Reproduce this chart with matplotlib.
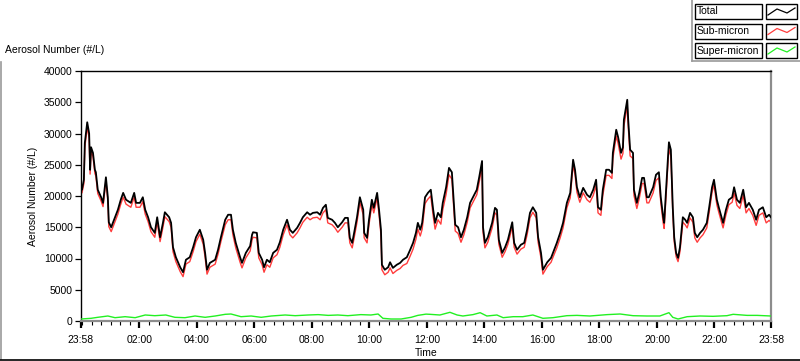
import numpy as np
import matplotlib
matplotlib.use("Agg")
import matplotlib.pyplot as plt
from matplotlib.lines import Line2D
from matplotlib.patches import Rectangle

plt.rcParams["font.family"] = ["Liberation Sans", "DejaVu Sans"]

# ---- data (minutes after 23:58 start, aerosol number #/L) ----
minutes = [0, 2, 6, 8, 13, 17, 19, 21, 25, 29, 31, 35, 42, 46, 52, 56, 58, 63, 71, 77,
           83, 88, 94, 104, 111, 115, 123, 129, 134, 140, 146, 154, 159, 165, 171, 175,
           184, 188, 192, 198, 207, 213, 219, 227, 234, 240, 248, 255, 259, 263, 269,
           280, 286, 292, 301, 307, 313, 317, 323, 332, 336, 344, 353, 357, 359, 367,
           371, 378, 382, 388, 394, 401, 409, 415, 422, 430, 436, 442, 451, 457, 463,
           472, 478, 484, 493, 499, 505, 511, 515, 524, 530, 536, 545, 551, 557, 561,
           566, 570, 576, 582, 589, 591, 597, 601, 607, 611, 618, 622, 626, 628, 634,
           641, 645, 651, 659, 666, 672, 680, 687, 693, 699, 703, 708, 712, 718, 724,
           730, 735, 739, 745, 751, 755, 762, 768, 774, 776, 781, 787, 793, 799, 806,
           812, 818, 826, 831, 837, 839, 843, 849, 858, 864, 868, 872, 879, 885, 891,
           900, 904, 910, 918, 925, 931, 937, 943, 950, 954, 960, 964, 973, 981, 985,
           993, 1000, 1006, 1014, 1021, 1027, 1031, 1035, 1041, 1048, 1056, 1062, 1069,
           1075, 1079, 1085, 1089, 1096, 1102, 1108, 1110, 1117, 1121, 1127, 1131, 1133,
           1140, 1142, 1146, 1152, 1154, 1160, 1165, 1171, 1175, 1181, 1185, 1194, 1200,
           1206, 1210, 1215, 1217, 1221, 1225, 1227, 1231, 1235, 1238, 1242, 1246, 1250,
           1256, 1261, 1265, 1271, 1277, 1281, 1286, 1292, 1298, 1306, 1311, 1317, 1321,
           1327, 1331, 1340, 1346, 1352, 1359, 1363, 1369, 1375, 1382, 1388, 1394, 1402,
           1409, 1415, 1423, 1430, 1436, 1440]

total = [21400, 21000, 22600, 28500, 31800, 30000, 24200, 27800, 26900, 24200, 23800,
         21000, 19800, 18900, 23000, 19800, 15800, 15000, 16600, 17800, 19400, 20500,
         19400, 18900, 20500, 18900, 18900, 19800, 17800, 16600, 15000, 14100, 16600,
         13400, 15700, 17400, 16600, 15700, 11800, 10200, 8600, 7800, 9800, 10200, 11800,
         13400, 14600, 13000, 10900, 8200, 9300, 9800, 11400, 13400, 16200, 17000, 17000,
         14600, 12500, 10200, 9300, 10900, 12000, 13800, 14200, 14100, 10900, 9800, 8600,
         9800, 9400, 10900, 11400, 12600, 14600, 16200, 14600, 14100, 14900, 15700, 16600,
         17400, 17000, 17300, 17400, 17000, 18100, 18600, 16500, 16200, 15700, 15000,
         15800, 16500, 16500, 13300, 12500, 14100, 16600, 19800, 17800, 14100, 13300,
         16200, 19400, 18100, 20500, 17800, 14600, 9000, 8200, 8600, 9400, 8500, 9000,
         9300, 9800, 10200, 11400, 12500, 14100, 15700, 14600, 15700, 19800, 20500, 21000,
         17800, 15700, 17300, 16600, 18900, 21400, 24500, 23800, 21400, 15400, 15000,
         13400, 14600, 16600, 18900, 19800, 21000, 23000, 25600, 15000, 12500, 13400,
         15700, 18100, 17800, 13000, 10900, 11800, 13000, 15800, 12500, 11400, 12200,
         12500, 14600, 17300, 18200, 17300, 13400, 10900, 8200, 9400, 10100, 10900, 12500,
         14100, 15700, 18900, 20500, 25800, 24200, 21400, 19800, 21300, 20200, 19800,
         21000, 22600, 18200, 17800, 21000, 24200, 24200, 23700, 26900, 30600, 29400,
         26900, 27800, 32200, 35400, 32200, 27400, 26900, 21000, 18900, 20500, 22900,
         22900, 19800, 19800, 21400, 23400, 23800, 19800, 16600, 15700, 21000, 26200,
         28600, 27400, 18200, 13400, 10900, 10100, 11800, 16600, 16200, 15700, 17300,
         16600, 14100, 13400, 14100, 14600, 15700, 18200, 21400, 22600, 19400, 18200,
         15700, 17800, 19400, 19800, 21400, 19400, 18900, 21000, 18200, 18900, 17800,
         16200, 17800, 18200, 16600, 17000, 16600]

sub_micron = [20900, 20500, 22000, 27800, 31000, 29300, 23500, 27200, 26300, 23600, 23200,
              20400, 19200, 18300, 22400, 19200, 15100, 14300, 15900, 17100, 18700, 19800,
              18700, 18200, 19800, 18200, 18200, 19100, 17100, 15900, 14300, 13400, 15900,
              12700, 15000, 16700, 15900, 15000, 11100, 9500, 7900, 7100, 9100, 9500, 11100,
              12700, 13900, 12300, 10200, 7500, 8600, 9100, 10700, 12700, 15400, 16200, 16200,
              13800, 11700, 9400, 8500, 10100, 11200, 13000, 13400, 13300, 10100, 9000, 7800,
              9000, 8600, 10100, 10600, 11800, 13800, 15400, 13800, 13300, 14100, 14900, 15800,
              16600, 16200, 16500, 16600, 16200, 17300, 17800, 15700, 15400, 14900, 14200,
              15000, 15700, 15700, 12500, 11700, 13300, 15800, 19000, 17000, 13300, 12500,
              15400, 18600, 17300, 19700, 17000, 13800, 8200, 7400, 7800, 8500, 7600, 8100,
              8400, 8900, 9200, 10400, 11500, 13100, 14700, 13600, 14700, 18800, 19500, 20000,
              16800, 14700, 16200, 15500, 17800, 20300, 23400, 22700, 20300, 14400, 14000,
              12600, 13800, 15800, 18100, 19000, 20200, 22200, 24800, 14200, 11700, 12600,
              14900, 17300, 17000, 12300, 10200, 11100, 12300, 15100, 11800, 10700, 11500,
              11800, 13800, 16500, 17400, 16500, 12600, 10100, 7500, 8700, 9400, 10200, 11700,
              13300, 14900, 18100, 19700, 25000, 23400, 20600, 19000, 20500, 19400, 19000,
              20100, 21700, 17300, 16900, 20100, 23300, 23300, 22800, 26000, 29600, 28400,
              25900, 26800, 31200, 34400, 31200, 26400, 26000, 20100, 18000, 19600, 22000,
              22000, 18900, 18900, 20500, 22500, 22900, 18900, 15700, 14800, 20100, 25300,
              27500, 26400, 17400, 12700, 10300, 9500, 11100, 15800, 15400, 14900, 16500,
              15800, 13300, 12600, 13300, 13800, 14900, 17400, 20600, 21800, 18600, 17400,
              14900, 17000, 18600, 19000, 20500, 18500, 18000, 20100, 17300, 18000, 16900,
              15300, 16900, 17300, 15700, 16100, 15800]

super_minutes = [0, 21, 35, 56, 71, 92, 113, 134, 154, 177, 196, 217, 238, 259, 280, 301,
                 313, 334, 355, 376, 397, 426, 447, 474, 495, 516, 536, 557, 584, 605, 620,
                 630, 647, 668, 689, 703, 720, 728, 749, 770, 785, 797, 818, 833, 847, 868,
                 881, 902, 922, 943, 964, 985, 1014, 1035, 1062, 1098, 1125, 1152, 1181,
                 1208, 1227, 1235, 1246, 1265, 1292, 1319, 1348, 1361, 1390, 1411, 1440]
super_micron = [320, 430, 590, 800, 530, 690, 530, 960, 850, 960, 590, 530, 800, 590, 800,
                1070, 1120, 690, 800, 590, 800, 960, 850, 960, 1020, 900, 960, 850, 1020,
                960, 1120, 430, 320, 320, 590, 900, 1100, 1070, 960, 1390, 960, 800, 1020,
                1330, 800, 960, 530, 690, 690, 960, 430, 530, 850, 900, 800, 1020, 1120, 850,
                800, 800, 1330, 590, 320, 690, 800, 750, 850, 1070, 900, 900, 800]

x_tick_labels = ["23:58", "02:00", "04:00", "06:00", "08:00", "10:00", "12:00",
                 "14:00", "16:00", "18:00", "20:00", "22:00", "23:58"]


def clock_to_minutes(label, start="23:58"):
    h, m = map(int, label.split(":"))
    h0, m0 = map(int, start.split(":"))
    return ((h * 60 + m) - (h0 * 60 + m0)) % 1440


# ---- figure ----
W, H = 800, 361
fig = plt.figure(figsize=(W / 100, H / 100), dpi=100)
fig.patch.set_facecolor("white")


def fx(px):
    return px / W


def fy(py):
    return 1 - py / H


ax = fig.add_axes([fx(81), fy(321), fx(771) - fx(81), fy(71) - fy(321)])
ax.plot(minutes, sub_micron, color="#ff3c3c", lw=1.0, zorder=2)
ax.plot(minutes, total, color="black", lw=1.3, zorder=3)
ax.plot(super_minutes, super_micron, color="#22f022", lw=1.0, zorder=4)

ax.set_xlim(0, 1440)
ax.set_ylim(0, 40000)
ax.set_yticks(np.arange(0, 40001, 5000))
ax.set_yticklabels([str(v) for v in range(0, 40001, 5000)])
major = [clock_to_minutes(lbl) for lbl in x_tick_labels]
major[-1] = 1440
ax.set_xticks(major)
ax.set_xticklabels(x_tick_labels)
ax.set_xticks([m for m in range(2, 1440, 20) if m not in major], minor=True)

ax.tick_params(axis="both", labelsize=7.5, colors="black", direction="out")
ax.tick_params(axis="x", which="major", length=5, width=1.6, pad=5)
ax.tick_params(axis="x", which="minor", length=3, width=0.8)
ax.tick_params(axis="y", which="major", length=4, width=0.9, pad=2)

for side in ["left", "top"]:
    ax.spines[side].set_color("black")
    ax.spines[side].set_linewidth(1.0)
for side in ["bottom", "right"]:
    ax.spines[side].set_color("#8c8c8c")
    ax.spines[side].set_linewidth(1.6)

ax.set_xlabel("Time", fontsize=7.5, labelpad=2)
ax.set_ylabel("Aerosol Number (#/L)", fontsize=7.5, labelpad=4)

fig.text(fx(5), fy(50), "Aerosol Number (#/L)", fontsize=7.5, va="center", ha="left")

# ---- outer frame ----
fig.add_artist(Line2D([fx(0.5), fx(0.5)], [fy(62), fy(359)], color="#9a9a9a", lw=1.2))
fig.add_artist(Line2D([fx(0), fx(800)], [fy(359.5), fy(359.5)], color="black", lw=1.2))
fig.add_artist(Line2D([fx(692), fx(692)], [fy(0), fy(61)], color="#9a9a9a", lw=1.2))
fig.add_artist(Line2D([fx(692), fx(800)], [fy(61), fy(61)], color="#9a9a9a", lw=1.2))

# ---- legend panel ----
legend_names = ["Total", "Sub-micron", "Super-micron"]
legend_colors = ["black", "#ff3c3c", "#22f022"]
for i, (name, col) in enumerate(zip(legend_names, legend_colors)):
    top = 4 + 19.5 * i
    fig.add_artist(Rectangle((fx(695), fy(top + 15)), fx(762) - fx(695), fy(top) - fy(top + 15),
                             facecolor="white", edgecolor="black", lw=1.0))
    fig.text(fx(697), fy(top + 7.5), name, fontsize=7.5, va="center", ha="left")
    fig.add_artist(Rectangle((fx(766), fy(top + 15)), fx(797) - fx(766), fy(top) - fy(top + 15),
                             facecolor="white", edgecolor="black", lw=1.0))
    zx = [768, 777, 787, 795]
    zy = [top + 11, top + 5, top + 9, top + 4]
    fig.add_artist(Line2D([fx(v) for v in zx], [fy(v) for v in zy], color=col, lw=0.9))

fig.savefig("out.png", dpi=100)
